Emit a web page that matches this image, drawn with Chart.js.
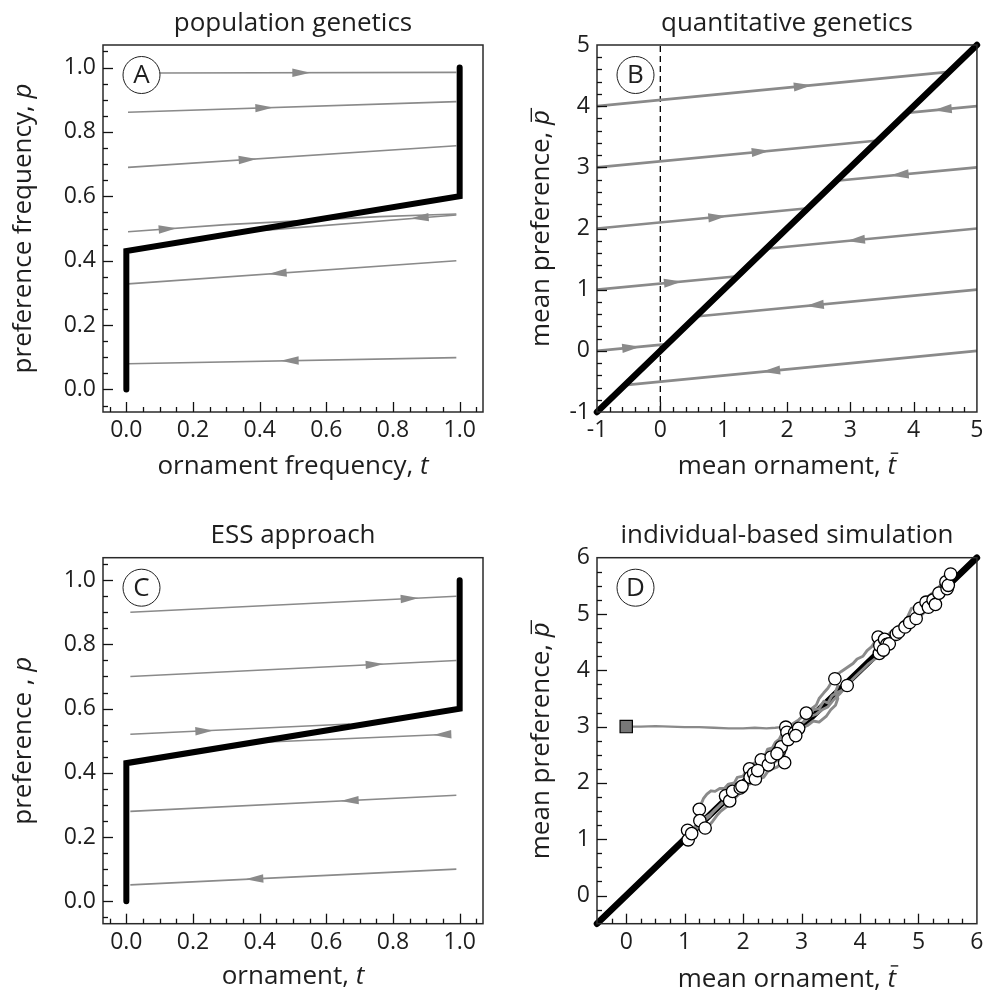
<!DOCTYPE html>
<html><head><meta charset="utf-8">
<script src="https://cdn.jsdelivr.net/npm/chart.js@4.4.1/dist/chart.umd.min.js"></script>
<style>
html,body{margin:0;padding:0;background:#fff}
#wrap{position:relative;width:988px;height:993px;overflow:hidden;background:#fff}
canvas{position:absolute;display:block}
</style></head><body><div id="wrap">
<canvas id="cA" width="494" height="496" style="left:0;top:0"></canvas>
<canvas id="cB" width="494" height="496" style="left:494px;top:0"></canvas>
<canvas id="cC" width="494" height="497" style="left:0;top:496px"></canvas>
<canvas id="cD" width="494" height="497" style="left:494px;top:496px"></canvas>
</div>
<script>
const FONT = '"Open Sans", "DejaVu Sans", sans-serif';
const GRAY = '#8a8a8a';
const INK = '#1e1e1e';

// ---------- Panel A: population genetics ----------
const A_equilT = [0, 0, 1, 1];
const A_equilP = [0, 0.43, 0.60, 1.00];
const A_paths = [
  [[0.10, 0.983], [0.99, 0.985]],
  [[0.005, 0.861], [0.99, 0.894]],
  [[0.005, 0.690], [0.99, 0.757]],
  [[0.005, 0.490], [0.30, 0.512], [0.76, 0.537], [0.99, 0.545]],
  [[0.99, 0.542], [0.42, 0.495]],
  [[0.99, 0.400], [0.005, 0.328]],
  [[0.99, 0.099], [0.005, 0.080]]
];
const A_arrowT = [0.525, 0.414, 0.364, 0.124, 0.88, 0.454, 0.49];
const A_arrowDir = [1, 1, 1, 1, -1, -1, -1];

// ---------- Panel B: quantitative genetics ----------
const B_equilT = [-1, 5];
const B_equilP = [-1, 5];
const B_guideT = [0, 0];
const B_guideP = [-1, 5];
const B_paths = [
  [[-1, 4], [4.56, 4.56]],
  [[5, 4], [3.89, 3.89]],
  [[-1, 3], [3.44, 3.44]],
  [[5, 3], [2.78, 2.78]],
  [[-1, 2], [2.33, 2.33]],
  [[5, 2], [1.67, 1.67]],
  [[-1, 1], [1.22, 1.22]],
  [[5, 1], [0.56, 0.56]],
  [[-1, 0], [0.11, 0.11]],
  [[5, 0], [-0.56, -0.56]]
];
const B_arrowT = [2.25, 4.46, 1.585, 3.78, 0.90, 3.09, 0.20, 2.44, -0.46, 1.75];
const B_arrowDir = [1, -1, 1, -1, 1, -1, 1, -1, 1, -1];

// ---------- Panel C: ESS approach ----------
const C_equilT = [0, 0, 1, 1];
const C_equilP = [0, 0.43, 0.60, 1.00];
const C_paths = [
  [[0.012, 0.900], [0.99, 0.950]],
  [[0.012, 0.700], [0.99, 0.750]],
  [[0.012, 0.520], [0.67, 0.552]],
  [[0.97, 0.520], [0.41, 0.495]],
  [[0.99, 0.330], [0.012, 0.280]],
  [[0.99, 0.100], [0.012, 0.051]]
];
const C_arrowT = [0.85, 0.745, 0.234, 0.948, 0.67, 0.384];
const C_arrowDir = [1, 1, 1, -1, -1, -1];

// ---------- Panel D: individual-based simulation ----------
const D_equilT = [-0.5, 6];
const D_equilP = [-0.5, 6];
const D_startT = [0];
const D_startP = [3];
const D_paths = [
  [[0,3.0],[0.25,3.0],[0.5,3.01],[0.75,3.0],[1.0,2.99],[1.25,2.99],[1.5,2.98],[1.75,2.97],[2.0,2.97],[2.2,2.98],[2.4,2.97],[2.55,2.98],[2.65,2.99],[2.72,3.0]],
  [[2.72,3.0],[2.68,2.9],[2.62,2.78],[2.55,2.72],[2.5,2.62],[2.42,2.6],[2.38,2.5],[2.3,2.47],[2.25,2.38],[2.18,2.35],[2.12,2.26],[2.05,2.22],[2.0,2.12],[1.9,2.1],[1.85,2.0],[1.75,1.98],[1.68,1.9],[1.6,1.9],[1.52,1.85],[1.45,1.86],[1.38,1.8],[1.32,1.72],[1.28,1.62],[1.25,1.53]],
  [[2.75,2.95],[2.78,2.8],[2.74,2.65],[2.7,2.5],[2.72,2.4],[2.65,2.35],[2.58,2.28],[2.5,2.25],[2.42,2.2],[2.35,2.1],[2.28,2.08],[2.2,2.0],[2.1,1.98],[2.02,1.88],[1.95,1.82],[1.88,1.75],[1.8,1.62],[1.72,1.58],[1.62,1.5],[1.55,1.42],[1.48,1.32],[1.42,1.25],[1.35,1.2]],
  [[2.8,2.92],[2.74,2.76],[2.68,2.66],[2.6,2.6],[2.52,2.5],[2.45,2.42],[2.38,2.35],[2.3,2.28],[2.22,2.22],[2.15,2.12],[2.08,2.08],[2.0,1.98],[1.92,1.92],[1.85,1.82],[1.78,1.78],[1.7,1.68],[1.6,1.6],[1.5,1.5],[1.42,1.4],[1.32,1.32],[1.25,1.22],[1.15,1.15],[1.06,1.0]],
  [[2.85,2.95],[2.8,2.82],[2.72,2.72],[2.66,2.6],[2.6,2.52],[2.52,2.45],[2.45,2.38],[2.35,2.32],[2.28,2.22],[2.2,2.18],[2.12,2.1],[2.0,2.02],[1.9,1.88],[1.8,1.8],[1.7,1.72],[1.62,1.62],[1.55,1.55],[1.45,1.45],[1.35,1.38],[1.25,1.3],[1.15,1.2],[1.05,1.16]],
  [[2.75,3.0],[2.85,3.05],[2.95,3.12],[3.05,3.22],[3.15,3.3],[3.25,3.38],[3.3,3.5],[3.38,3.6],[3.45,3.68],[3.52,3.8],[3.6,3.92],[3.68,3.98],[3.78,4.05],[3.88,4.12],[3.95,4.2],[4.05,4.25],[4.12,4.35],[4.2,4.42],[4.28,4.55],[4.35,4.62],[4.45,4.6],[4.55,4.7],[4.62,4.75],[4.7,4.82],[4.8,4.92],[4.88,5.1],[4.95,5.12],[5.05,5.18],[5.15,5.3],[5.25,5.38],[5.35,5.48],[5.45,5.6],[5.55,5.71]],
  [[2.8,2.98],[2.95,2.95],[3.1,3.02],[3.2,3.1],[3.3,3.08],[3.42,3.18],[3.5,3.3],[3.58,3.38],[3.62,3.5],[3.58,3.62],[3.62,3.72],[3.57,3.85]],
  [[2.9,2.92],[3.0,3.05],[3.12,3.15],[3.2,3.3],[3.3,3.32],[3.38,3.45],[3.45,3.42],[3.52,3.55],[3.6,3.6],[3.7,3.65],[3.78,3.73]],
  [[2.95,3.0],[3.05,3.1],[3.15,3.18],[3.25,3.22],[3.35,3.3],[3.45,3.35],[3.55,3.48],[3.65,3.58],[3.75,3.7],[3.85,3.82],[3.95,3.92],[4.05,4.02],[4.15,4.12],[4.25,4.2],[4.32,4.3]],
  [[4.33,4.3],[4.4,4.42],[4.5,4.48],[4.6,4.55],[4.7,4.65],[4.8,4.75],[4.9,4.85],[5.0,4.95],[5.1,5.05],[5.2,5.12],[5.3,5.18],[5.4,5.32],[5.48,5.4],[5.5,5.5]],
  [[4.35,4.45],[4.45,4.55],[4.55,4.58],[4.65,4.66],[4.75,4.72],[4.85,4.82],[4.95,4.9],[5.05,4.98],[5.15,5.08],[5.22,5.2],[5.3,5.28],[5.4,5.38],[5.47,5.57]],
  [[2.7,2.55],[2.62,2.42],[2.55,2.38],[2.48,2.3],[2.4,2.28],[2.32,2.2],[2.25,2.15],[2.18,2.05],[2.1,2.02],[2.0,1.95]]
];
const D_endT = [1.05,1.06,1.12,1.25,1.26,1.35,1.70,1.77,1.82,1.95,2.11,2.12,2.18,2.21,2.31,2.43,2.48,2.62,2.65,2.71,2.73,2.75,2.77,2.88,2.95,3.08,3.57,3.78,4.31,4.33,4.34,4.42,4.46,4.50,4.62,4.66,4.77,4.85,4.96,5.02,5.13,5.17,5.25,5.29,5.35,5.47,5.49,5.51,5.55,2.25,2.58,2.90,1.98,4.40];
const D_endP = [1.16,0.99,1.10,1.53,1.33,1.20,1.77,1.68,1.85,1.91,2.25,2.10,2.17,2.07,2.41,2.32,2.46,2.57,2.64,2.36,2.99,2.90,2.77,2.89,2.97,3.24,3.85,3.73,4.59,4.30,4.44,4.55,4.46,4.47,4.64,4.68,4.77,4.85,4.92,5.10,5.21,5.12,5.25,5.17,5.37,5.57,5.45,5.51,5.71,2.22,2.52,2.84,1.94,4.36];

// ---------- tick labels ----------
const AC_ticks = [0, 0.2, 0.4, 0.6, 0.8, 1.0];
const B_ticks = [-1, 0, 1, 2, 3, 4, 5];
const D_ticks = [0, 1, 2, 3, 4, 5, 6];

// ---------- texts ----------
const TITLES = ['population genetics', 'quantitative genetics', 'ESS approach', 'individual-based simulation'];
const LETTERS = ['A', 'B', 'C', 'D'];
const XTITLES = [
  [{t:'ornament frequency, '}, {t:'t', it:true}],
  [{t:'mean ornament, '}, {t:'t', it:true, bar:0.80}],
  [{t:'ornament, '}, {t:'t', it:true}],
  [{t:'mean ornament, '}, {t:'t', it:true, bar:0.80}]
];
const YTITLES = [
  [{t:'preference frequency, '}, {t:'p', it:true}],
  [{t:'mean preference, '}, {t:'p', it:true, bar:0.68}],
  [{t:'preference , '}, {t:'p', it:true}],
  [{t:'mean preference, '}, {t:'p', it:true, bar:0.68}]
];

// ---------- helpers ----------
const xy = (xs, ys) => xs.map((x, i) => ({x, y: ys[i]}));
const pts = p => p.map(([x, y]) => ({x, y}));

function lineDS(data, color, width, order, extra) {
  return Object.assign({data, showLine: true, borderColor: color, backgroundColor: color,
    borderWidth: width, pointRadius: 0, pointHoverRadius: 0, fill: false, tension: 0,
    order, clip: false, borderCapStyle: 'butt', borderJoinStyle: 'round'}, extra || {});
}

function drawParts(ctx, parts, size) {
  const fonts = parts.map(p => (p.it ? 'italic ' : '') + size + 'px ' + FONT);
  const ws = parts.map((p, i) => { ctx.font = fonts[i]; return ctx.measureText(p.t).width; });
  const total = ws.reduce((a, b) => a + b, 0);
  let x = -total / 2;
  ctx.textAlign = 'left'; ctx.textBaseline = 'alphabetic'; ctx.fillStyle = INK;
  parts.forEach((p, i) => {
    ctx.font = fonts[i];
    ctx.fillText(p.t, x, 0);
    if (p.bar) {
      const h = p.bar * size;
      ctx.beginPath(); ctx.lineWidth = 1.4; ctx.strokeStyle = INK;
      ctx.moveTo(x + size * 0.12, -h); ctx.lineTo(x + ws[i] + size * 0.08, -h); ctx.stroke();
    }
    x += ws[i];
  });
}

const decor = {
  id: 'decor',
  afterDatasetsDraw(chart, args, o) {
    if (!o.paths) return;
    const ctx = chart.ctx, xs = chart.scales.x, ys = chart.scales.y;
    ctx.save();
    ctx.fillStyle = o.arrowColor;
    o.at.forEach((at, k) => {
      const path = o.paths[k], dir = o.dir[k];
      for (let i = 0; i < path.length - 1; i++) {
        const [x1, y1] = path[i], [x2, y2] = path[i + 1];
        if (at >= Math.min(x1, x2) && at <= Math.max(x1, x2)) {
          const f = (at - x1) / (x2 - x1);
          const yv = y1 + f * (y2 - y1);
          const cx = xs.getPixelForValue(at), cy = ys.getPixelForValue(yv);
          const L = x1 < x2 ? [x1, y1] : [x2, y2], R = x1 < x2 ? [x2, y2] : [x1, y1];
          let dx = xs.getPixelForValue(R[0]) - xs.getPixelForValue(L[0]);
          let dy = ys.getPixelForValue(R[1]) - ys.getPixelForValue(L[1]);
          const n = Math.hypot(dx, dy); dx = dx / n * dir; dy = dy / n * dir;
          const len = o.len, hw = o.hw;
          const tx = cx + dx * len / 2, ty = cy + dy * len / 2;
          const bx = cx - dx * len / 2, by = cy - dy * len / 2;
          ctx.beginPath();
          ctx.moveTo(tx, ty);
          ctx.lineTo(bx - dy * hw, by + dx * hw);
          ctx.lineTo(bx + dy * hw, by - dx * hw);
          ctx.closePath(); ctx.fill();
          break;
        }
      }
    });
    ctx.restore();
  },
  afterDraw(chart, args, o) {
    const ctx = chart.ctx, ca = chart.chartArea, xs = chart.scales.x, ys = chart.scales.y;
    ctx.save();
    // frame
    ctx.strokeStyle = '#2a2a2a'; ctx.lineWidth = 1.5;
    ctx.strokeRect(ca.left, ca.top, ca.right - ca.left, ca.bottom - ca.top);
    // inward ticks
    ctx.strokeStyle = '#111'; ctx.lineWidth = 1.3;
    const doTicks = (scale, minor, major, horiz) => {
      const k0 = Math.ceil(scale.min / minor - 1e-6), k1 = Math.floor(scale.max / minor + 1e-6);
      for (let k = k0; k <= k1; k++) {
        const v = k * minor;
        const r = v / major, isMajor = Math.abs(r - Math.round(r)) < 1e-6;
        const len = isMajor ? 10 : 5;
        const p = Math.round(scale.getPixelForValue(v)) + 0.5;
        ctx.beginPath();
        if (horiz) {
          if (p <= ca.left + 1 || p >= ca.right - 1) continue;
          ctx.moveTo(p, ca.bottom); ctx.lineTo(p, ca.bottom - len);
        } else {
          if (p <= ca.top + 1 || p >= ca.bottom - 1) continue;
          ctx.moveTo(ca.left, p); ctx.lineTo(ca.left + len, p);
        }
        ctx.stroke();
      }
    };
    doTicks(xs, o.xMinor, o.xMajor, true);
    doTicks(ys, o.yMinor, o.yMajor, false);
    // circled letter
    const lx = ca.left + 38.5, ly = ca.top + 30;
    ctx.beginPath(); ctx.arc(lx, ly, 18.5, 0, Math.PI * 2);
    ctx.fillStyle = '#fff'; ctx.fill();
    ctx.lineWidth = 1; ctx.strokeStyle = INK; ctx.stroke();
    ctx.fillStyle = INK; ctx.font = '26px ' + FONT; ctx.textAlign = 'center'; ctx.textBaseline = 'middle';
    ctx.fillText(o.letter, lx, ly + 1);
    // axis titles
    ctx.save();
    ctx.translate((ca.left + ca.right) / 2, ca.bottom + o.xBase);
    drawParts(ctx, o.xTitle, 26);
    ctx.restore();
    ctx.save();
    ctx.translate(ca.left - o.yBase, (ca.top + ca.bottom) / 2);
    ctx.rotate(-Math.PI / 2);
    drawParts(ctx, o.yTitle, 26);
    ctx.restore();
    ctx.restore();
  }
};

function fmt(v, dec) { return dec ? v.toFixed(dec) : String(Math.round(v)); }

function panel(id, o) {
  const axis = (a, isX) => ({
    type: 'linear', min: a.min, max: a.max,
    grid: {display: false, drawTicks: false}, border: {display: false},
    afterBuildTicks: s => { s.ticks = a.ticks.map(v => ({value: v})); },
    afterFit: s => { if (isX) s.height = o.xH; else s.width = 103; },
    ticks: {autoSkip: false, maxRotation: 0, padding: isX ? 4.5 : 7, color: INK,
      font: {family: FONT, size: 23}, callback: v => fmt(v, a.dec)}
  });
  return new Chart(document.getElementById(id), {
    type: 'scatter',
    data: {datasets: o.datasets},
    options: {
      responsive: false, animation: false, devicePixelRatio: 1, events: [],
      layout: {padding: {left: 0, right: 11, top: 0, bottom: 0}},
      plugins: {
        legend: {display: false}, tooltip: {enabled: false},
        title: {display: true, text: o.title, fullSize: false, color: INK,
          font: {family: FONT, size: 26, weight: 'normal', lineHeight: 1.2},
          padding: {top: o.titleTop, bottom: 6.1}},
        decor: o.decor
      },
      scales: {x: axis(o.x, true), y: axis(o.y, false)}
    },
    plugins: [decor]
  });
}

// ---------- Panel A ----------
panel('cA', {
  title: TITLES[0], titleTop: 7.7, xH: 84,
  x: {min: -0.07, max: 1.07, ticks: AC_ticks, dec: 1},
  y: {min: -0.07, max: 1.07, ticks: AC_ticks, dec: 1},
  datasets: [
    lineDS(xy(A_equilT, A_equilP), '#000', 6, 0, {borderCapStyle: 'round', borderJoinStyle: 'miter'}),
    ...A_paths.map(p => lineDS(pts(p), GRAY, 1.6, 1))
  ],
  decor: {letter: LETTERS[0], xTitle: XTITLES[0], yTitle: YTITLES[0], xBase: 62, yBase: 72,
    xMinor: 0.05, xMajor: 0.2, yMinor: 0.05, yMajor: 0.2,
    paths: A_paths, at: A_arrowT, dir: A_arrowDir, arrowColor: GRAY, len: 18, hw: 4.2}
});

// ---------- Panel B ----------
panel('cB', {
  title: TITLES[1], titleTop: 7.7, xH: 84,
  x: {min: -1, max: 5, ticks: B_ticks, dec: 0},
  y: {min: -1, max: 5, ticks: B_ticks, dec: 0},
  datasets: [
    lineDS(xy(B_equilT, B_equilP), '#000', 6.5, 0, {borderCapStyle: 'round'}),
    ...B_paths.map(p => lineDS(pts(p), GRAY, 2.6, 1)),
    lineDS(xy(B_guideT, B_guideP), '#000', 1.3, 2, {borderDash: [6, 4]})
  ],
  decor: {letter: LETTERS[1], xTitle: XTITLES[1], yTitle: YTITLES[1], xBase: 62, yBase: 48,
    xMinor: 0.2, xMajor: 1, yMinor: 0.2, yMajor: 1,
    paths: B_paths, at: B_arrowT, dir: B_arrowDir, arrowColor: GRAY, len: 18, hw: 4.6}
});

// ---------- Panel C ----------
panel('cC', {
  title: TITLES[2], titleTop: 24.4, xH: 69.3,
  x: {min: -0.07, max: 1.07, ticks: AC_ticks, dec: 1},
  y: {min: -0.07, max: 1.07, ticks: AC_ticks, dec: 1},
  datasets: [
    lineDS(xy(C_equilT, C_equilP), '#000', 6, 0, {borderCapStyle: 'round', borderJoinStyle: 'miter'}),
    ...C_paths.map(p => lineDS(pts(p), GRAY, 1.6, 1))
  ],
  decor: {letter: LETTERS[2], xTitle: XTITLES[2], yTitle: YTITLES[2], xBase: 60, yBase: 72,
    xMinor: 0.05, xMajor: 0.2, yMinor: 0.05, yMajor: 0.2,
    paths: C_paths, at: C_arrowT, dir: C_arrowDir, arrowColor: GRAY, len: 18, hw: 4.2}
});

// ---------- Panel D ----------
panel('cD', {
  title: TITLES[3], titleTop: 24.4, xH: 69.3,
  x: {min: -0.5, max: 6, ticks: D_ticks, dec: 0},
  y: {min: -0.5, max: 6, ticks: D_ticks, dec: 0},
  datasets: [
    {data: xy(D_endT, D_endP), showLine: false, pointRadius: 6.2, pointBackgroundColor: '#fff',
      pointBorderColor: '#000', pointBorderWidth: 1.3, order: 0, clip: false},
    {data: xy(D_startT, D_startP), showLine: false, pointStyle: 'rect', pointRadius: 8.7,
      pointBackgroundColor: '#777', pointBorderColor: '#000', pointBorderWidth: 1.2, order: 1, clip: false},
    lineDS(pts(D_paths[0]), GRAY, 2.3, 2),
    ...D_paths.slice(1).map(p => lineDS(pts(p), GRAY, 2.9, 2)),
    lineDS(xy(D_equilT, D_equilP), '#000', 6.5, 3, {borderCapStyle: 'round'})
  ],
  decor: {letter: LETTERS[3], xTitle: XTITLES[3], yTitle: YTITLES[3], xBase: 63, yBase: 48,
    xMinor: 0.25, xMajor: 1, yMinor: 0.25, yMajor: 1}
});
</script></body></html>
